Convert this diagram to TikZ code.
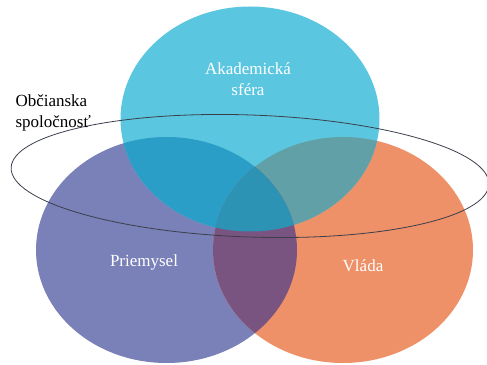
\documentclass[tikz,border=0pt]{standalone}
\usepackage{fontspec}
\setmainfont{Liberation Serif}
\definecolor{akad}{HTML}{5BC6E0}
\definecolor{priem}{HTML}{7A80B8}
\definecolor{vlada}{HTML}{EE9068}
\definecolor{akpriem}{HTML}{2A9EC6}
\definecolor{akvlada}{HTML}{62A0A8}
\definecolor{priemvlada}{HTML}{7A5480}
\definecolor{spolu}{HTML}{2C93B4}
\definecolor{obrys}{HTML}{3A3F4C}

\begin{document}
\begin{tikzpicture}[line cap=round,line join=round,x=1pt,y=1pt]
\tikzset{label/.style={font=\fontsize{17}{21}\selectfont,text=white,align=center}}
\useasboundingbox (0,0) rectangle (487,364);
\def\akadpath{(250,245) ellipse (129.5 and 112.5)}
\def\priempath{(166.5,114) ellipse (130.5 and 113)}
\def\vladapath{(343,114) ellipse (130 and 113)}
% tri kruhy
\fill[priem] \priempath;
\fill[vlada] \vladapath;
\fill[akad] \akadpath;
% prieniky
\begin{scope}
\clip \akadpath;
\fill[akpriem] \priempath;
\fill[akvlada] \vladapath;
\end{scope}
\begin{scope}
\clip \priempath;
\fill[priemvlada] \vladapath;
\clip \vladapath;
\fill[spolu] \akadpath;
\end{scope}
% obcianska spolocnost
\draw[obrys,line width=0.8pt,rotate around={-2:(250,188)}] (250,188) ellipse (239 and 61);
\node[label] (akademia) at (248,285) {Akademická\\sféra};
\node[label] (priemysel) at (144,102) {Priemysel};
\node[label] (vlada) at (363,98) {Vláda};
\node[font=\fontsize{17}{21}\selectfont,align=left,anchor=west] (spolocnost) at (12,251) {Občianska\\spoločnosť};
\end{tikzpicture}
\end{document}
